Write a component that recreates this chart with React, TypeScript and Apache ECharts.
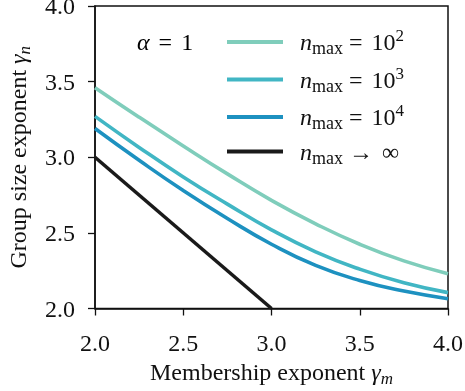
import React, { useEffect, useRef } from "react";
import * as echarts from "echarts";

const gammaM = [2.0, 2.25, 2.5, 2.75, 3.0, 3.25, 3.5, 3.75, 4.0];
const nmax1e2 = [3.46, 3.265, 3.075, 2.89, 2.715, 2.56, 2.425, 2.315, 2.23];
const nmax1e3 = [3.27, 3.065, 2.87, 2.69, 2.52, 2.375, 2.26, 2.17, 2.105];
const nmax1e4 = [3.19, 2.98, 2.78, 2.595, 2.425, 2.285, 2.185, 2.115, 2.065];
const limitM = [2.0, 3.0];
const limitN = [3.0, 2.0];
const xTicks = [2.0, 2.5, 3.0, 3.5, 4.0];
const yTicks = [2.0, 2.5, 3.0, 3.5, 4.0];

const seriesNames = ["nmax=1e2", "nmax=1e3", "nmax=1e4", "nmax=inf"];
const seriesColors = ["#7fcdbb", "#41b6c4", "#1d91c0", "#1a1a1a"];
const legendRich: Record<string, string> = {
  "nmax=1e2": "{n|n}{sub|max}{eq|=}{t|10}{sup|2}",
  "nmax=1e3": "{n|n}{sub|max}{eq|=}{t|10}{sup|3}",
  "nmax=1e4": "{n|n}{sub|max}{eq|=}{t|10}{sup|4}",
  "nmax=inf": "{n|n}{sub|max}{eq|→}{t|∞}",
};

const FONT = "'Liberation Serif', 'Times New Roman', 'DejaVu Serif', serif";

const pairs = (xs: number[], ys: number[]) => xs.map((x, i) => [x, ys[i]]);

export default function App() {
  const ref = useRef<HTMLDivElement>(null);
  useEffect(() => {
    if (!ref.current) return;
    const chart = echarts.init(ref.current, undefined, { renderer: "svg" });
    const mathRich = {
      n: { fontFamily: FONT, fontStyle: "italic", fontSize: 24, lineHeight: 30, color: "#111" },
      t: { fontFamily: FONT, fontSize: 24, lineHeight: 30, color: "#111" },
      eq: { fontFamily: FONT, fontSize: 24, lineHeight: 30, color: "#111", padding: [0, 9, 0, 6] },
      sub: { fontFamily: FONT, fontSize: 18, lineHeight: 18, verticalAlign: "bottom", color: "#111" },
      sup: { fontFamily: FONT, fontSize: 17, lineHeight: 6, verticalAlign: "top", color: "#111" },
      g: { fontFamily: FONT, fontStyle: "italic", fontSize: 24, lineHeight: 30, color: "#111" },
      gs: { fontFamily: FONT, fontSize: 17, lineHeight: 18, fontStyle: "italic", verticalAlign: "bottom", color: "#111" },
      a: { fontFamily: FONT, fontSize: 24, lineHeight: 30, color: "#111" },
      aeq: { fontFamily: FONT, fontSize: 24, lineHeight: 30, color: "#111", padding: [0, 9, 0, 9] },
    };
    const ydata = [nmax1e2, nmax1e3, nmax1e4];
    chart.setOption({
      animation: false,
      textStyle: { fontFamily: FONT },
      grid: {
        left: 95,
        right: 17,
        top: 6,
        bottom: 82.5,
        containLabel: false,
        outerBoundsMode: "none",
        show: true,
        borderColor: "#111",
        borderWidth: 1.5,
        backgroundColor: "transparent",
      },
      xAxis: {
        type: "value",
        min: 2,
        max: 4,
        interval: 0.5,
        name: "{a|Membership exponent }{g|γ}{gs|m}",
        nameLocation: "middle",
        nameGap: 48,
        nameTextStyle: { rich: mathRich, fontFamily: FONT },
        axisLine: { show: true, onZero: false, lineStyle: { color: "#111", width: 1.5 } },
        axisTick: { show: true, inside: false, length: 7, lineStyle: { color: "#111", width: 1.3 } },
        axisLabel: {
          margin: 22,
          fontFamily: FONT,
          fontSize: 24,
          color: "#111",
          formatter: (v: number) => (xTicks.includes(v) ? v.toFixed(1) : ""),
        },
        splitLine: { show: false },
      },
      yAxis: {
        type: "value",
        min: 2,
        max: 4,
        interval: 0.5,
        name: "{a|Group size exponent }{g|γ}{gs|n}",
        nameLocation: "middle",
        nameGap: 62,
        nameRotate: 90,
        nameTextStyle: { rich: mathRich, fontFamily: FONT },
        axisLine: { show: true, onZero: false, lineStyle: { color: "#111", width: 1.5 } },
        axisTick: { show: true, inside: false, length: 7, lineStyle: { color: "#111", width: 1.3 } },
        axisLabel: {
          margin: 20,
          fontFamily: FONT,
          fontSize: 24,
          color: "#111",
          formatter: (v: number) => (yTicks.includes(v) ? v.toFixed(1) : ""),
        },
        splitLine: { show: false },
      },
      legend: {
        orient: "vertical",
        left: 222,
        top: 22,
        itemWidth: 56,
        itemHeight: 4,
        itemGap: 7.5,
        icon: "rect",
        data: seriesNames,
        formatter: (name: string) => legendRich[name],
        textStyle: { padding: [0, 0, 0, 12], rich: mathRich, fontFamily: FONT },
      },
      graphic: [
        {
          type: "text",
          left: 137,
          top: 30,
          style: {
            text: "{g|α}{aeq|=}{a|1}",
            rich: mathRich,
            fontFamily: FONT,
          },
        },
      ],
      series: [
        ...ydata.map((ys, i) => ({
          name: seriesNames[i],
          type: "line",
          data: pairs(gammaM, ys),
          smooth: 0.5,
          symbol: "none",
          lineStyle: { color: seriesColors[i], width: 3.6, cap: "butt" },
          itemStyle: { color: seriesColors[i] },
        })),
        {
          name: seriesNames[3],
          type: "line",
          data: pairs(limitM, limitN),
          symbol: "none",
          lineStyle: { color: seriesColors[3], width: 3.6, cap: "butt" },
          itemStyle: { color: seriesColors[3] },
        },
      ],
    });
    return () => chart.dispose();
  }, []);
  return (
    <div
      ref={ref}
      style={{ position: "fixed", left: 0, top: 0, width: 465, height: 391 }}
    />
  );
}
